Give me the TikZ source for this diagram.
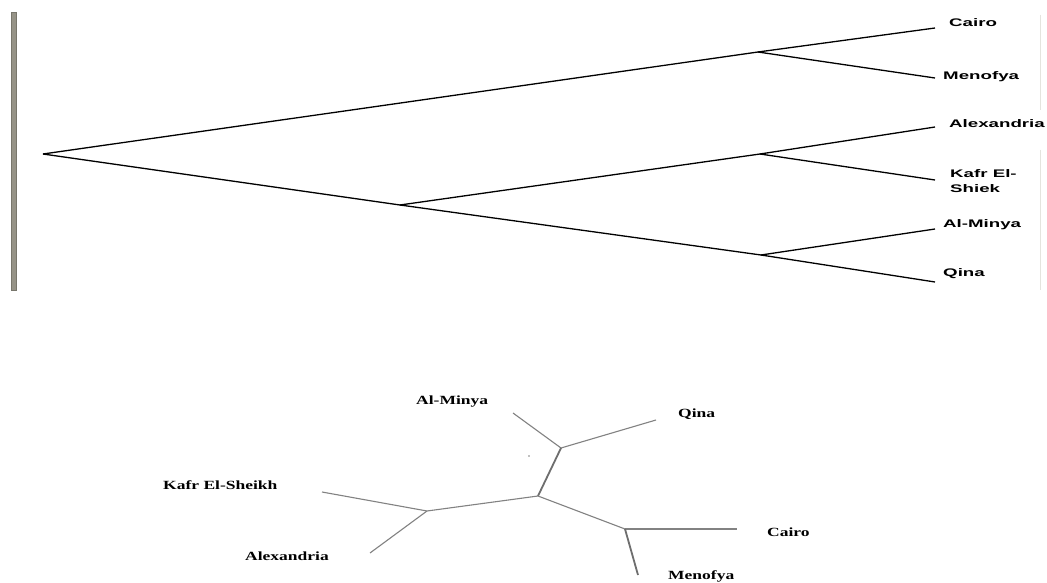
\documentclass[tikz,border=0pt]{standalone}
\usepackage{fontspec}
\newfontfamily\topfont[FakeStretch=1.7]{Liberation Sans}
\newfontfamily\botfont[FakeStretch=1.4]{Liberation Serif}
\definecolor{barcol}{RGB}{150,147,135}
\definecolor{bardark}{RGB}{120,118,108}
\definecolor{treegray}{RGB}{130,130,130}
\definecolor{faint}{RGB}{228,228,222}
\begin{document}
\begin{tikzpicture}[x=1pt,y=-1pt,
  toplbl/.style={font=\topfont\bfseries\fontsize{11}{15}\selectfont, inner sep=0pt, anchor=west, align=left},
  botlbl/.style={font=\botfont\bfseries\fontsize{12.5}{14}\selectfont, inner sep=0pt, anchor=west},
  topedge/.style={draw=black, line width=1.3pt},
  botedge/.style={draw=treegray, line width=1.1pt},
  botedgethick/.style={draw=treegray!85!black, line width=1.8pt}]
\useasboundingbox (0,0) rectangle (1047,583);
\fill[white] (0,0) rectangle (1047,583);
% left bar
\filldraw[fill=barcol, draw=bardark, line width=0.6pt] (11,12) rectangle (16,290);
% faint right lines
\draw[faint, line width=0.8pt] (1040,15) -- (1040,110);
\draw[faint, line width=0.8pt] (1040,150) -- (1040,290);

% ---- top tree ----
\coordinate (root) at (43,154);
\coordinate (jmid) at (400,205);
\coordinate (jcm) at (758,52);
\coordinate (jak) at (760,154);
\coordinate (jmq) at (761,255);
\coordinate (tCairo) at (935,28);
\coordinate (tMenofya) at (935,78);
\coordinate (tAlex) at (935,127);
\coordinate (tKafr) at (935,180);
\coordinate (tMinya) at (935,229);
\coordinate (tQina) at (935,282);

\draw[topedge] (root) -- (jcm);
\draw[topedge] (root) -- (jmid);
\draw[topedge] (jmid) -- (jmq);
\draw[topedge] (jmid) -- (jak);
\draw[topedge] (jcm) -- (tCairo);
\draw[topedge] (jcm) -- (tMenofya);
\draw[topedge] (jak) -- (tAlex);
\draw[topedge] (jak) -- (tKafr);
\draw[topedge] (jmq) -- (tMinya);
\draw[topedge] (jmq) -- (tQina);

\node[toplbl] (lCairo) at (949,23) {Cairo};
\node[toplbl] (lMenofya) at (943,77) {Menofya};
\node[toplbl] (lAlex) at (949,124) {Alexandria};
\node[toplbl] (lKafr) at (950,181) {Kafr El-\\Shiek};
\node[toplbl] (lMinya) at (943,225) {Al-Minya};
\node[toplbl] (lQina) at (943,274) {Qina};

% ---- bottom unrooted tree ----
\coordinate (bA) at (561,448);
\coordinate (bB) at (538,496);
\coordinate (bC) at (427,511);
\coordinate (bD) at (625,529);
\coordinate (bMinya) at (513,413);
\coordinate (bQina) at (656,420);
\coordinate (bKafr) at (322,492);
\coordinate (bAlex) at (370,553);
\coordinate (bCairo) at (737,529);
\coordinate (bMenofya) at (638,575);

\draw[botedge] (bA) -- (bMinya);
\draw[botedge] (bA) -- (bQina);
\draw[botedgethick] (bA) -- (bB);
\draw[botedge] (bB) -- (bC);
\draw[botedge] (bC) -- (bKafr);
\draw[botedge] (bC) -- (bAlex);
\draw[botedge] (bB) -- (bD);
\draw[botedge] (bD) -- (bCairo);
\draw[botedgethick] (bD) -- (bMenofya);
\fill[treegray] (529,456) circle (0.8pt);

\node[botlbl] (mMinya) at (416,402) {Al-Minya};
\node[botlbl] (mQina) at (678,414) {Qina};
\node[botlbl] (mKafr) at (163,485) {Kafr El-Sheikh};
\node[botlbl] (mAlex) at (245,556) {Alexandria};
\node[botlbl] (mCairo) at (767,532) {Cairo};
\node[botlbl] (mMenofya) at (668,576) {Menofya};
\end{tikzpicture}
\end{document}
